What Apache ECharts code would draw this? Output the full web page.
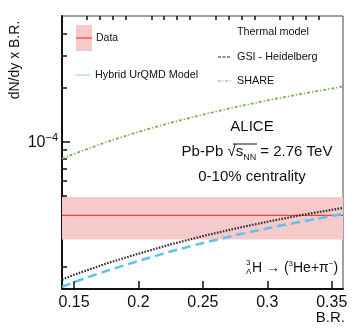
<!DOCTYPE html>
<html>
<head>
<meta charset="utf-8">
<script src="https://cdn.jsdelivr.net/npm/echarts@6/dist/echarts.min.js"></script>
<style>
  html, body { margin: 0; padding: 0; background: #fff; }
  #chart { width: 357px; height: 334px; }
</style>
</head>
<body>
<div id="chart"></div>
<script>
// B.R. sampling points
const brValues = [0.1407, 0.15, 0.175, 0.2, 0.225, 0.25, 0.275, 0.3, 0.325, 0.35, 0.3587]
// model curves, dN/dy x B.R.
const shareValues = [8.0e-5, 8.5e-5, 9.9e-5, 1.13e-4, 1.27e-4, 1.41e-4, 1.55e-4, 1.69e-4, 1.83e-4, 1.97e-4, 2.02e-4]
const gsiValues = [1.69e-5, 1.80e-5, 2.08e-5, 2.36e-5, 2.66e-5, 2.96e-5, 3.26e-5, 3.56e-5, 3.86e-5, 4.15e-5, 4.25e-5]
const urqmdValues = [1.54e-5, 1.64e-5, 1.89e-5, 2.15e-5, 2.43e-5, 2.71e-5, 2.99e-5, 3.27e-5, 3.55e-5, 3.83e-5, 3.93e-5]
// measured value and its error band
const dataBR = [0.1407, 0.3587]
const dataValue = 3.86e-5
const dataBand = [2.83e-5, 4.89e-5]
// ticks
const xMajorTicks = [0.15, 0.2, 0.25, 0.3, 0.35]
const xMinorTicks = [0.16, 0.17, 0.18, 0.19, 0.21, 0.22, 0.23, 0.24, 0.26, 0.27, 0.28, 0.29, 0.31, 0.32, 0.33, 0.34]
const yMajorTicks = [1e-4]
const yMinorTicks = [2e-5, 3e-5, 4e-5, 5e-5, 6e-5, 7e-5, 8e-5, 9e-5, 2e-4, 3e-4, 4e-4]

const font = 'Liberation Sans, Arial, Helvetica, sans-serif'
const ink = '#111'
const pairs = (xs, ys) => xs.map((x, i) => [x, ys[i]])

const chart = echarts.init(document.getElementById('chart'))

const xBase = { type: 'value', min: 0.1407, max: 0.3587, splitLine: { show: false } }
const yBase = { type: 'log', logBase: 10, min: 1.5e-5, max: 5e-4, splitLine: { show: false } }

chart.setOption({
  animation: false,
  grid: { left: 62, right: 14, top: 16, bottom: 45, show: true, borderColor: '#444', borderWidth: 1 },
  xAxis: [
    Object.assign({}, xBase, {
      axisLine: { lineStyle: { color: ink, width: 2 } },
      axisTick: { inside: true, length: 8, customValues: xMajorTicks, lineStyle: { color: ink, width: 1.5 } },
      axisLabel: {
        customValues: xMajorTicks, margin: 6,
        fontFamily: font, fontSize: 16, color: ink,
        formatter: v => String(Math.round(v * 100) / 100)
      }
    }),
    Object.assign({}, xBase, {
      axisLine: { show: false },
      axisTick: { inside: true, length: 4, customValues: xMinorTicks, lineStyle: { color: ink, width: 1.5 } },
      axisLabel: { show: false }
    })
  ],
  yAxis: [
    Object.assign({}, yBase, {
      axisLine: { show: true, lineStyle: { color: ink, width: 2 } },
      axisTick: { inside: true, length: 8, customValues: yMajorTicks, lineStyle: { color: ink, width: 1.5 } },
      axisLabel: {
        customValues: yMajorTicks, margin: 4,
        formatter: () => '{b|10}{s|−4}',
        rich: {
          b: { fontFamily: font, fontSize: 16, color: ink, verticalAlign: 'bottom', lineHeight: 18 },
          s: { fontFamily: font, fontSize: 11, color: ink, verticalAlign: 'top', lineHeight: 18, padding: [0, 0, 8, 0] }
        }
      }
    }),
    Object.assign({}, yBase, {
      position: 'left',
      axisLine: { show: false },
      axisTick: { inside: true, length: 5, customValues: yMinorTicks, lineStyle: { color: ink, width: 1.5 } },
      axisLabel: { show: false }
    })
  ],
  series: [
    {
      name: 'Data', type: 'line', z: 1, symbol: 'none',
      data: dataBR.map(x => [x, dataValue]),
      lineStyle: { color: '#e8453c', width: 1.2 },
      markArea: {
        silent: true,
        itemStyle: { color: '#f6c9ca' },
        data: [[{ yAxis: dataBand[0] }, { yAxis: dataBand[1] }]]
      }
    },
    {
      name: 'SHARE', type: 'line', z: 3, symbol: 'none',
      data: pairs(brValues, shareValues),
      lineStyle: { color: '#74b34e', width: 1.8, type: [3, 2, 1.2, 2] }
    },
    {
      name: 'GSI - Heidelberg', type: 'line', z: 3, symbol: 'none',
      data: pairs(brValues, gsiValues),
      lineStyle: { color: '#333', width: 2.2, type: [1.6, 1.4] }
    },
    {
      name: 'Hybrid UrQMD Model', type: 'line', z: 3, symbol: 'none',
      data: pairs(brValues, urqmdValues),
      lineStyle: { color: '#5cc4ee', width: 2.5, type: [9, 5] }
    }
  ],
  graphic: [
    // y axis title
    { type: 'text', x: 15, y: 60, rotation: Math.PI / 2,
      style: { text: 'dN/dy x B.R.', fontFamily: font, fontSize: 14, fill: ink, align: 'center', verticalAlign: 'middle' } },
    // x axis title
    { type: 'text', x: 345, y: 318,
      style: { text: 'B.R.', fontFamily: font, fontSize: 15, fill: ink, align: 'right', verticalAlign: 'middle' } },
    // legend: Data
    { type: 'rect', shape: { x: 76, y: 25, width: 16, height: 26 }, style: { fill: '#f6c9ca' } },
    { type: 'line', shape: { x1: 76, y1: 38, x2: 92, y2: 38 }, style: { stroke: '#e8453c', lineWidth: 1.2 } },
    { type: 'text', x: 96, y: 38, style: { text: 'Data', fontFamily: font, fontSize: 10.5, fill: ink, verticalAlign: 'middle' } },
    // legend: UrQMD
    { type: 'line', shape: { x1: 76, y1: 75, x2: 90, y2: 75 }, style: { stroke: '#7fd0f2', lineWidth: 1 } },
    { type: 'text', x: 95, y: 75, style: { text: 'Hybrid UrQMD Model', fontFamily: font, fontSize: 10.8, fill: ink, verticalAlign: 'middle' } },
    // legend: thermal models
    { type: 'text', x: 237, y: 32, style: { text: 'Thermal model', fontFamily: font, fontSize: 10.8, fill: ink, verticalAlign: 'middle' } },
    { type: 'line', shape: { x1: 218, y1: 57, x2: 231, y2: 57 }, style: { stroke: '#222', lineWidth: 1, lineDash: [3, 1.5] } },
    { type: 'text', x: 237, y: 57, style: { text: 'GSI - Heidelberg', fontFamily: font, fontSize: 10.8, fill: ink, verticalAlign: 'middle' } },
    { type: 'line', shape: { x1: 218, y1: 81, x2: 231, y2: 81 }, style: { stroke: '#74b34e', lineWidth: 1, lineDash: [3, 1.5, 1, 1.5] } },
    { type: 'text', x: 237, y: 81, style: { text: 'SHARE', fontFamily: font, fontSize: 10.8, fill: ink, verticalAlign: 'middle' } },
    // ALICE block
    { type: 'text', x: 252, y: 127, style: { text: 'ALICE', fontFamily: font, fontSize: 15, fill: ink, align: 'center', verticalAlign: 'middle' } },
    { type: 'text', x: 257, y: 152,
      style: {
        text: 'Pb-Pb {r|√}{o|s}{n|NN} = 2.76 TeV', fontFamily: font, fontSize: 15, fill: ink,
        align: 'center', verticalAlign: 'middle',
        rich: {
          r: { fontFamily: font, fontSize: 15, fill: ink, verticalAlign: 'middle' },
          o: { fontFamily: font, fontSize: 15, fill: ink, verticalAlign: 'middle' },
          n: { fontFamily: font, fontSize: 9, fill: ink, verticalAlign: 'bottom', lineHeight: 20 }
        }
      } },
    { type: 'line', shape: { x1: 233, y1: 144, x2: 257, y2: 144 }, style: { stroke: ink, lineWidth: 1 } },
    { type: 'text', x: 252, y: 177, style: { text: '0-10% centrality', fontFamily: font, fontSize: 15, fill: ink, align: 'center', verticalAlign: 'middle' } },
    // decay channel
    { type: 'text', x: 246, y: 263, style: { text: '3', fontFamily: font, fontSize: 8, fill: ink, verticalAlign: 'middle' } },
    { type: 'text', x: 246, y: 272, style: { text: 'Λ', fontFamily: font, fontSize: 8, fill: ink, verticalAlign: 'middle' } },
    { type: 'text', x: 252, y: 268,
      style: {
        text: 'H → ({s|3}He+π{s|−})', fontFamily: font, fontSize: 14, fill: ink, verticalAlign: 'middle',
        rich: {
          s: { fontFamily: font, fontSize: 8, fill: ink, verticalAlign: 'top', lineHeight: 16 }
        }
      } }
  ]
})
</script>
</body>
</html>
